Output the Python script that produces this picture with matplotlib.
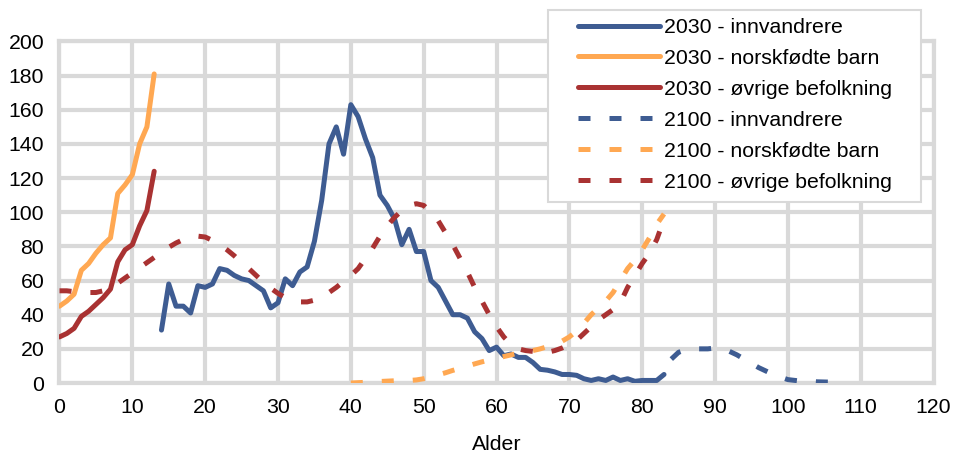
import matplotlib
matplotlib.use("Agg")
import matplotlib.pyplot as plt
from matplotlib.patches import Rectangle

# --- data ---
ages_innv_2030 = list(range(14, 84))
innv_2030 = [31, 58, 45, 45, 41, 57, 56, 58, 67, 66,
             63, 61, 60, 57, 54, 44, 47, 61, 57, 65,
             68, 83, 107, 140, 150, 134, 163, 156, 143, 132,
             110, 104, 96, 81, 90, 77, 77, 60, 56, 48,
             40, 40, 38, 30, 26, 19, 21, 16, 17, 15,
             15, 12, 8, 7.5, 6.5, 5, 5, 4.5, 2.5, 1.5,
             2.5, 1.5, 3.5, 1.5, 2.5, 1, 1.5, 1.5, 1.5, 5]

ages_barn_2030 = list(range(0, 14))
barn_2030 = [45, 48, 52, 66, 70, 76, 81, 85, 111, 116, 122, 140, 150, 181]

ages_ovrige_2030 = list(range(0, 14))
ovrige_2030 = [27, 29, 32, 39, 42, 46, 50, 55, 71, 78, 81, 92, 101, 124]

ages_innv_2100 = list(range(84, 107))
innv_2100 = [14, 18, 19.5, 20, 20, 20, 20.5, 20, 18.5, 16.5,
             14, 11.5, 9, 7, 5, 3.5, 2, 1.5, 1, 1,
             0.7, 0.6, 0.5]

ages_barn_2100 = list(range(40, 84))
barn_2100 = [0, 0.2, 0.4, 0.6, 0.9, 1.1, 1.3, 1.4, 1.5, 1.8,
             2.5, 3.5, 4.8, 6, 7.4, 8.6, 9.9, 11.2, 12.4, 13.5,
             14.5, 15.5, 16.5, 17.5, 18.3, 19, 20, 21.3, 22.8, 24.5,
             27, 30.5, 35, 40, 44, 48, 53, 60, 67, 72,
             78, 85, 93, 99]

ages_ovrige_2100 = list(range(0, 84))
ovrige_2100 = [54, 54, 53.5, 53, 53, 53, 54, 56, 58.5, 61.5,
               64.5, 67.5, 70.5, 73.5, 76.5, 79.5, 82, 84, 85.5, 86,
               85.5, 83.5, 81, 78, 74.5, 70.5, 67, 63, 59, 55.5,
               52.5, 50, 48.5, 47.5, 47.5, 48.5, 50.5, 53, 56, 59.5,
               63, 67, 73, 79, 86, 92, 97, 101, 104, 105,
               104, 100, 95, 88, 81, 73, 65, 56, 48, 40,
               33, 27, 22.5, 20, 19, 18.5, 18, 18, 19, 20.5,
               22.5, 25, 29, 33, 37, 40, 43, 47, 56, 63,
               70, 76, 84, 96]

labels = ["2030 - innvandrere", "2030 - norskfødte barn", "2030 - øvrige befolkning",
          "2100 - innvandrere", "2100 - norskfødte barn", "2100 - øvrige befolkning"]

BLUE = "#3E5C92"
ORANGE = "#FFA852"
RED = "#A93232"
GRID = "#D9D9D9"

plt.rcParams.update({
    "font.family": ["Liberation Sans", "DejaVu Sans"],
    "font.size": 15.3,
})

fig = plt.figure(figsize=(9.55, 4.53), dpi=100)
ax = fig.add_axes([0.0623, 0.1545, 0.9152, 0.7539])

LW = 3.6
DASH = (0, (2.4, 3.8))
solid_kw = dict(lw=LW, solid_capstyle="round", solid_joinstyle="round")
dash_kw = dict(lw=LW, linestyle=DASH, dash_capstyle="butt", dash_joinstyle="round")

series = [
    (ages_innv_2030, innv_2030, BLUE, solid_kw),
    (ages_barn_2030, barn_2030, ORANGE, solid_kw),
    (ages_ovrige_2030, ovrige_2030, RED, solid_kw),
    (ages_innv_2100, innv_2100, BLUE, dash_kw),
    (ages_barn_2100, barn_2100, ORANGE, dash_kw),
    (ages_ovrige_2100, ovrige_2100, RED, dash_kw),
]
handles = []
for (x, y, c, kw), lab in zip(series, labels):
    h, = ax.plot(x, y, color=c, label=lab, zorder=3, **kw)
    handles.append(h)

ax.set_xlim(0, 120)
ax.set_ylim(0, 200)
ax.set_xticks(range(0, 121, 10))
ax.set_yticks(range(0, 201, 20))
ax.grid(True, color=GRID, lw=3.0, zorder=0)
ax.set_axisbelow(True)
for sp in ax.spines.values():
    sp.set_color(GRID)
    sp.set_linewidth(3.0)
ax.tick_params(length=0, colors="black")
ax.tick_params(axis="x", pad=11)
ax.tick_params(axis="y", pad=11)
ax.set_xlabel("Alder", labelpad=13)

# legend box (white, light grey border) sitting over the top-right corner
box = Rectangle((548 / 955, 1 - 202 / 453), (921 - 548) / 955, (202 - 10) / 453,
                transform=fig.transFigure, facecolor="white", edgecolor=GRID,
                lw=1.5, zorder=2)
fig.patches.append(box)
fig.legend(handles=handles, loc="upper left",
           bbox_to_anchor=(578 / 955, 1 - 18 / 453), bbox_transform=fig.transFigure,
           frameon=False, borderpad=0, borderaxespad=0,
           handlelength=3.86, handletextpad=0.2, labelspacing=0.56)

fig.savefig("out.png", dpi=100)
